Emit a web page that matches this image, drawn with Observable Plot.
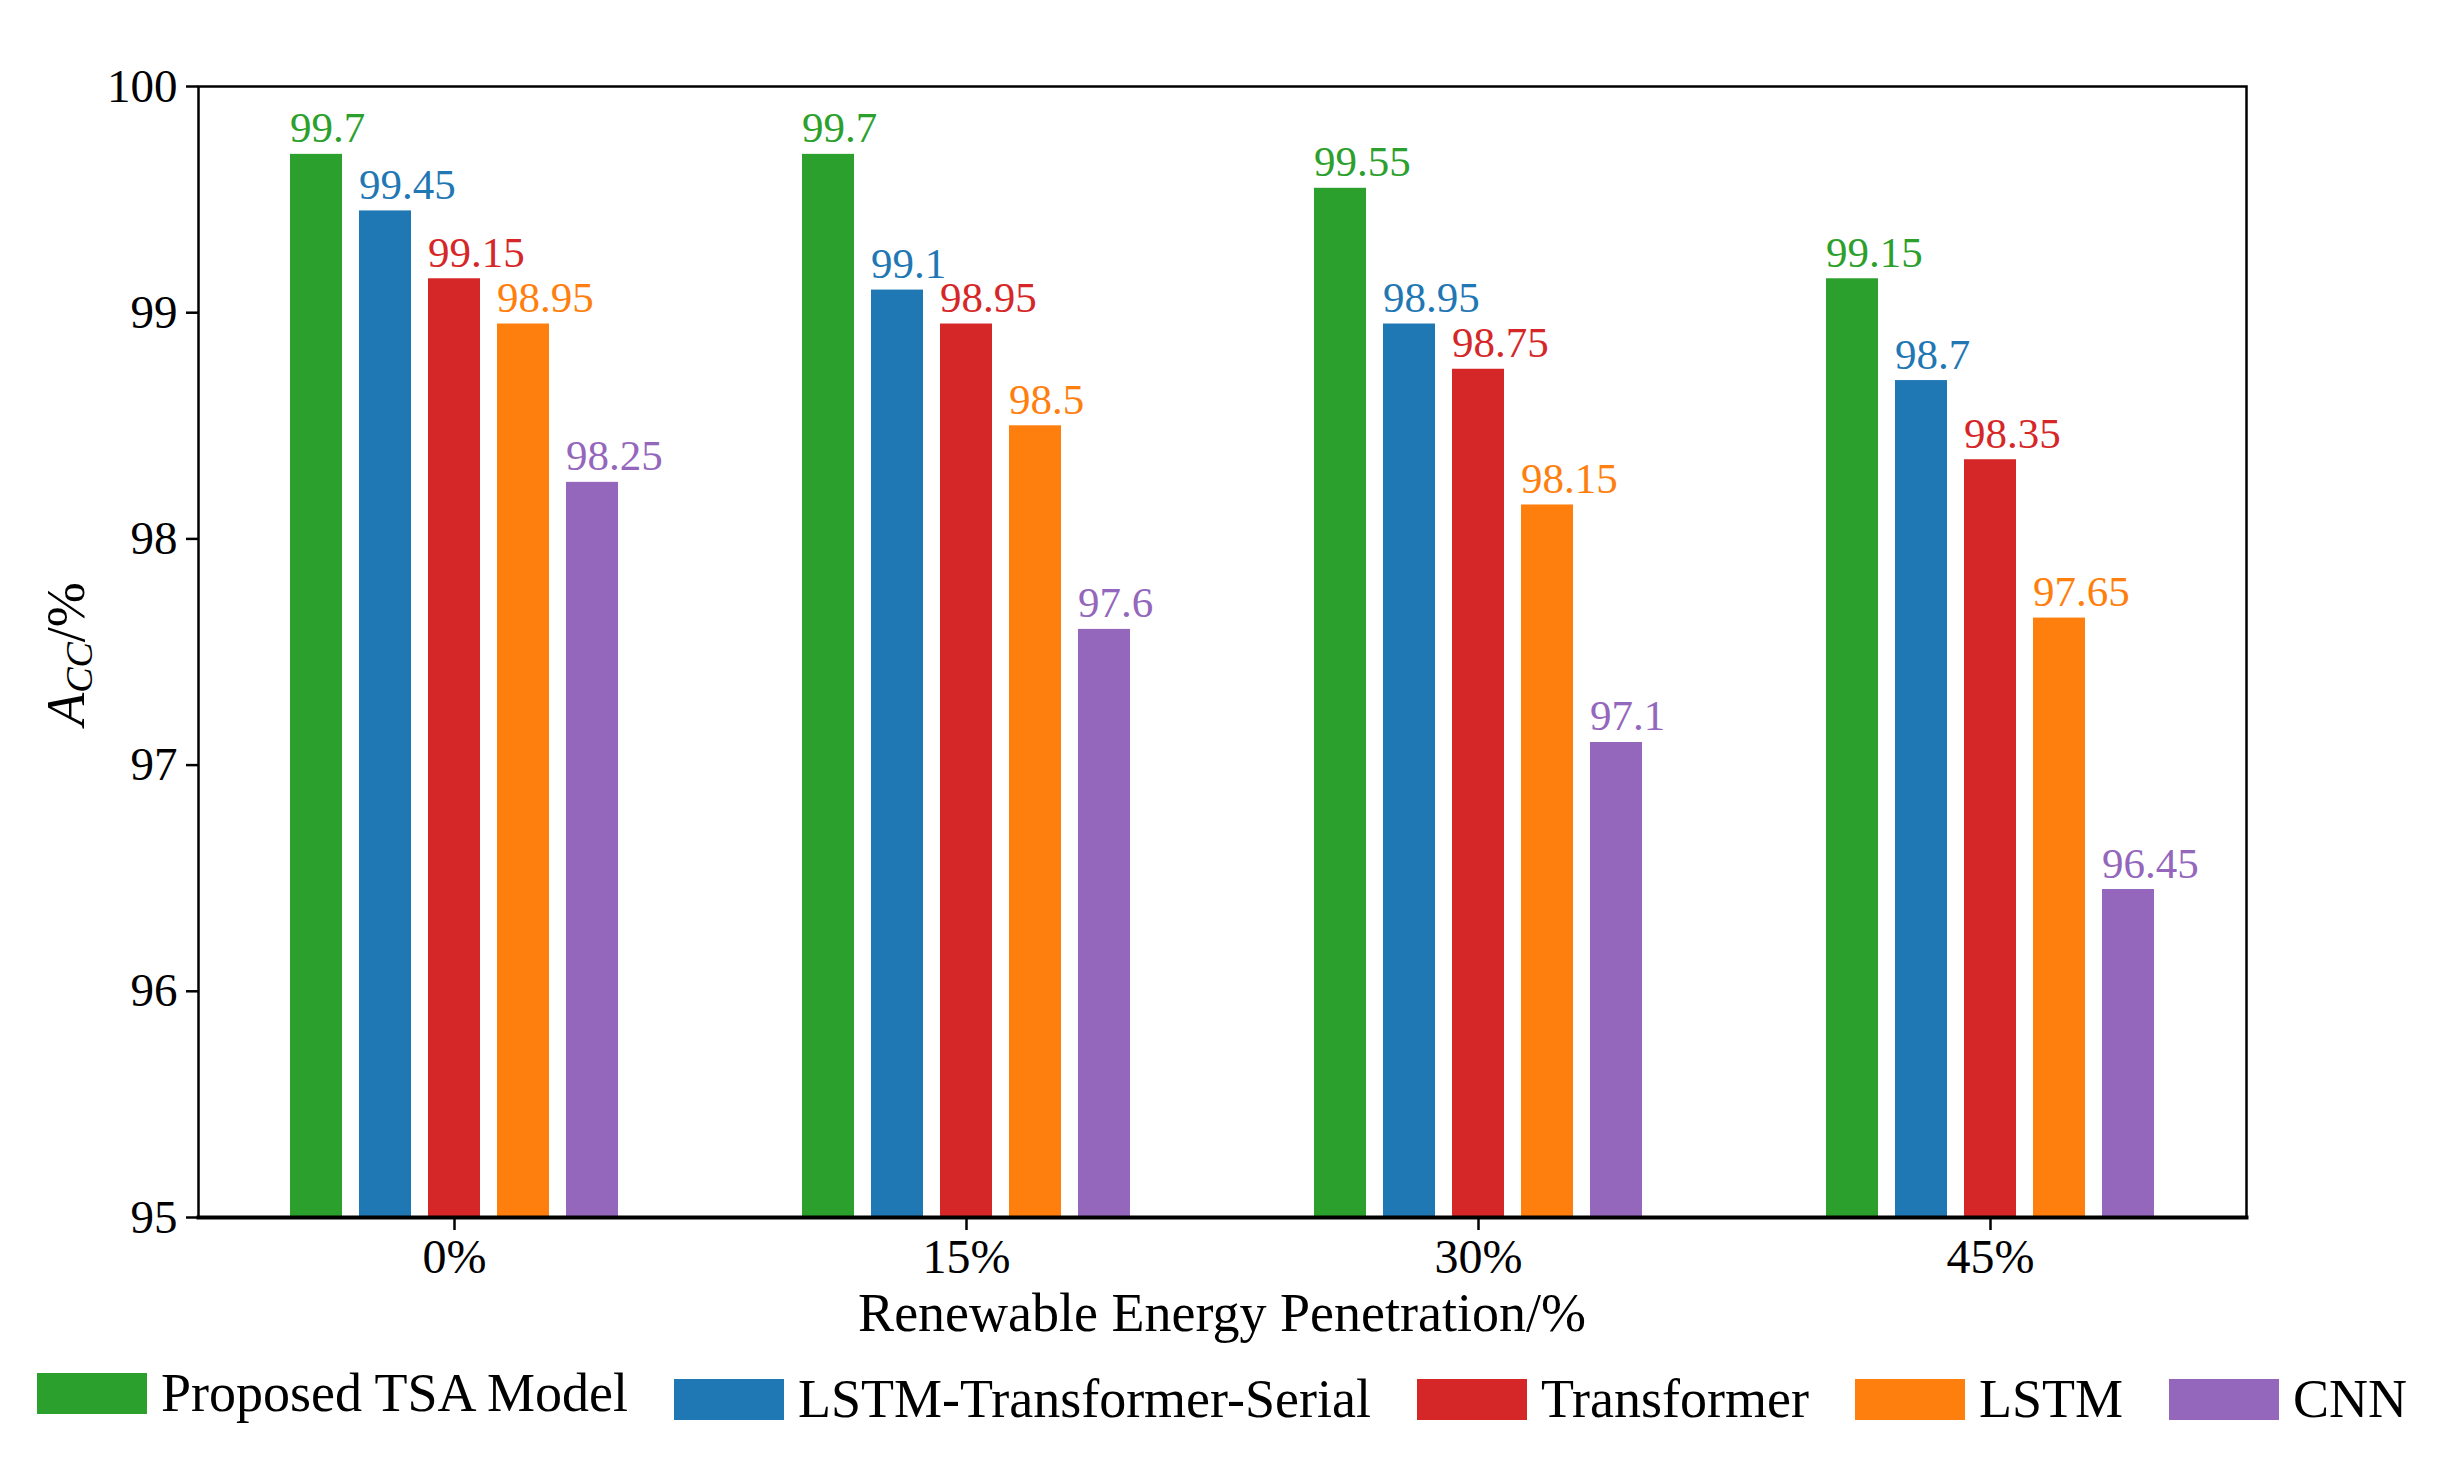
<!DOCTYPE html>
<html>
<head>
<meta charset="utf-8">
<script src="https://cdn.jsdelivr.net/npm/d3@7"></script>
<script src="https://cdn.jsdelivr.net/npm/@observablehq/plot@0.6"></script>
<style>
  html, body { margin: 0; padding: 0; background: #fff; }
  body { width: 2444px; height: 1468px; overflow: hidden; font-family: "Liberation Serif", "Times New Roman", serif; }
  #chart svg { display: block; }
  #xtitle { width: 2444px; height: 60px; line-height: 60px; font-size: 54px; text-align: center; color: #000; margin-top: -4px; }
  #legend { display: flex; justify-content: center; gap: 46px; margin-top: 26px; font-size: 54px; line-height: 60px; color: #000; }
  .item { display: flex; align-items: center; height: 60px; }
  .sw { width: 110px; height: 41px; margin-right: 14px; }
</style>
</head>
<body>
<div id="chart"></div>
<div id="xtitle">Renewable Energy Penetration/%</div>
<div id="legend"></div>
<script>
// ---- data ----
const groups = ["0%", "15%", "30%", "45%"];
const seriesNames = ["Proposed TSA Model", "LSTM-Transformer-Serial", "Transformer", "LSTM", "CNN"];
const seriesColors = ["#2ca02c", "#1f77b4", "#d62728", "#ff7f0e", "#9467bd"];
const proposedTSA = [99.7, 99.7, 99.55, 99.15];
const lstmTransformerSerial = [99.45, 99.1, 98.95, 98.7];
const transformer = [99.15, 98.95, 98.75, 98.35];
const lstm = [98.95, 98.5, 98.15, 97.65];
const cnn = [98.25, 97.6, 97.1, 96.45];
const yTicks = [95, 96, 97, 98, 99, 100];

const seriesValues = [proposedTSA, lstmTransformerSerial, transformer, lstm, cnn];
const table = [];
groups.forEach((g, gi) => {
  seriesNames.forEach((s, si) => {
    table.push({group: g, series: s, value: seriesValues[si][gi]});
  });
});
const yBase = yTicks[0];

const chart = Plot.plot({
  width: 2444,
  height: 1287,
  marginLeft: 196,
  marginRight: 197,
  marginTop: 86,
  marginBottom: 70,
  style: {fontFamily: "Liberation Serif, Times New Roman, serif", color: "#000", background: "#fff"},
  fx: {domain: groups, paddingInner: 0, paddingOuter: 0, label: null},
  x: {domain: seriesNames, paddingInner: 0.24, paddingOuter: 0, insetLeft: 91, insetRight: 91, axis: null},
  y: {domain: [yTicks[0], yTicks[yTicks.length - 1]], label: null},
  color: {domain: seriesNames, range: seriesColors},
  marks: [
    Plot.barY(table, {fx: "group", x: "series", y1: yBase, y2: "value", fill: "series", inset: 0}),
    Plot.text(table, {
      fx: "group", x: "series", y: "value", text: d => String(d.value),
      fill: "series", textAnchor: "start", lineAnchor: "bottom", dx: -26.5, dy: -12, fontSize: 43
    }),
    Plot.axisY({ticks: yTicks, tickFormat: d => String(d), tickSize: 12, tickPadding: 9, fontSize: 47, label: null, strokeWidth: 2.5}),
    Plot.axisFx({anchor: "bottom", tickSize: 13, tickPadding: 8, fontSize: 48, label: null, strokeWidth: 2.5}),
    Plot.frame({facet: "super", stroke: "#000", strokeWidth: 2.5}),
    Plot.frame({facet: "super", anchor: "bottom", stroke: "#000", strokeWidth: 4})
  ]
});
document.getElementById("chart").appendChild(chart);

// y-axis title with italic A and subscript CC
const svg = d3.select(chart);
const yt = svg.append("text")
  .attr("transform", "translate(84,654) rotate(-90)")
  .attr("text-anchor", "middle")
  .attr("font-size", 54)
  .attr("font-family", "Liberation Serif, Times New Roman, serif")
  .attr("fill", "#000");
yt.append("tspan").attr("font-style", "italic").text("A");
yt.append("tspan").attr("font-style", "italic").attr("font-size", 38).attr("dy", 8).text("CC");
yt.append("tspan").attr("dy", -8).text("/%");

// legend
const legend = d3.select("#legend");
seriesNames.forEach((s, i) => {
  const it = legend.append("div").attr("class", "item");
  if (i === 0) it.style("margin-top", "-6px");
  it.append("div").attr("class", "sw").style("background", seriesColors[i]);
  it.append("span").text(s);
});
</script>
</body>
</html>
